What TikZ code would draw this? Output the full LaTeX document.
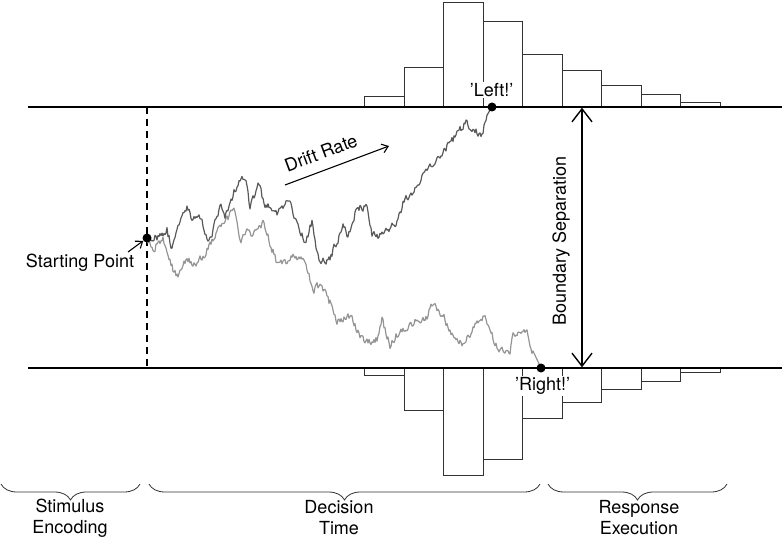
\documentclass[tikz,border=0pt]{standalone}
\usepackage{fontspec}
\setmainfont{TeX Gyre Heros}
\usetikzlibrary{arrows.meta,decorations.pathreplacing}
\newcommand\mkwalk[3]{%
  \gdef\wpath{}%
  \gdef\wnoise{0}%
  \foreach \x/\y [remember=\x as \px (initially #1), remember=\y as \py (initially #2)] in {#3} {%
    \pgfmathtruncatemacro\wn{max(1,round(abs(\x-\px)/1.0))}%
    \foreach \k in {1,...,\wn} {%
      \pgfmathsetmacro\xx{\px+(\x-\px)*\k/\wn}%
      \pgfmathsetmacro\nn{0.3*\wnoise+3.6*rand}%
      \pgfmathsetmacro\yy{\py+(\y-\py)*\k/\wn+\nn}%
      \xdef\wnoise{\nn}%
      \xdef\wpath{\wpath -- (\xx,\yy)}%
    }%
  }%
}
\begin{document}
\begin{tikzpicture}[x=1pt,y=-1pt,
  lbl/.style={font=\fontsize{18}{21}\selectfont, inner sep=1pt},
  bound/.style={line width=1.4pt, black},
  hist/.style={line width=0.8pt, draw=black!80},
  dotnode/.style={circle, fill=black, inner sep=0pt, minimum size=9pt},
  darkwalk/.style={line width=1.2pt, draw=black!65, line join=round},
  lightwalk/.style={line width=1.2pt, draw=black!42, line join=round},
  brc/.style={decorate, decoration={brace, mirror, amplitude=16pt}, line width=0.8pt, draw=black!80},
  barb/.style={-{Straight Barb[length=6pt,width=9pt]}, line width=1.1pt}
]
\useasboundingbox (0,0) rectangle (782,540);
\pgfmathsetseed{4711}
% histograms top
\foreach \a/\b/\h in {364.3/404/96.7, 404/443.7/67.7, 443.7/483.3/2.7, 483.3/522.7/21, 522.7/562.3/54.7, 562.3/601.7/70.3, 601.7/641.3/85, 641.3/680.7/94.3, 680.7/720.3/102.3}
  \draw[hist] (\a,107) rectangle (\b,\h);
% histograms bottom
\foreach \a/\b/\h in {364.3/404/375.7, 404/443.7/410, 443.7/483.3/475.3, 483.3/522.7/459.3, 522.7/562.3/418, 562.3/601.7/402.3, 601.7/641.3/389, 641.3/680.7/381, 680.7/720.3/372.7}
  \draw[hist] (\a,368) rectangle (\b,\h);
% boundaries
\coordinate (tl) at (28,107);
\coordinate (tr) at (782,107);
\coordinate (bl) at (28,368);
\coordinate (br) at (782,368);
\draw[bound] (tl) -- (tr);
\draw[bound] (bl) -- (br);
\coordinate (dtop) at (147,107);
\coordinate (dbot) at (147,368);
\draw[line width=1.2pt, dash pattern=on 7pt off 5pt] (dtop) -- (dbot);
% walks
\mkwalk{147}{238}{153/250, 163/237, 167/257, 177/277, 187/257, 195/267, 207/250, 218/230, 227/220, 230/213, 235/210, 240/243, 247/233, 253/237, 255/227, 263/223, 277/263, 287/260, 297/257, 305/260, 313/293, 320/283, 330/303, 337/323, 350/317, 363/340, 377/340, 382/318, 390/347, 400/330, 407/327, 417/320, 427/317, 433/302, 443/315, 450/333, 463/343, 477/323, 485/318, 497/347, 510/353, 513/332, 527/333, 533/353}
\edef\tmp{\noexpand\draw[lightwalk] (147,238) \wpath -- (541,368);}\tmp
\mkwalk{147}{238}{157/237, 167/230, 172/250, 177/225, 187/208, 192/217, 202/220, 207/240, 212/235, 220/205, 225/215, 230/207, 233/193, 242/177, 247/187, 250/208, 258/183, 265/205, 277/213, 288/200, 293/213, 300/230, 305/243, 312/222, 319/263, 330/258, 343/227, 348/237, 357/207, 367/207, 372/233, 378/238, 397/223, 403/203, 410/195, 420/182, 430/165, 445/150, 458/133, 466/122, 474/130, 482/135, 487/115}
\edef\tmp{\noexpand\draw[darkwalk] (147,238) \wpath -- (492,107);}\tmp
% labels
\node[lbl, fill=white] (leftlbl) at (491.7,90) {'Left!'};
\node[lbl, fill=white] (rightlbl) at (542.7,386) {'Right!'};
\node[lbl] (startlbl) at (80,263) {Starting Point};
\node[lbl, rotate=20.5] (drift) at (321,153) {Drift Rate};
\node[lbl, rotate=90] (bsep) at (561,241) {Boundary Separation};
% dots
\node[dotnode] (sp) at (147,238) {};
\node[dotnode] (lt) at (492,107) {};
\node[dotnode] (rt) at (541,368) {};
% arrows
\coordinate (d1) at (285,185);
\coordinate (d2) at (389,146);
\draw[barb] (d1) -- (d2);
\draw[barb] (128,252) -- (sp);
\coordinate (ba) at (582,107.7);
\coordinate (bb) at (582,367.3);
\draw[line width=1.4pt, {Straight Barb[length=13pt,width=20pt]}-{Straight Barb[length=13pt,width=20pt]}] (ba) -- (bb);
% braces
\draw[brc] (1,484) -- (140,484);
\draw[brc] (149,484) -- (540,484);
\draw[brc] (548,484) -- (727,484);
\node[lbl, align=center] (stim) at (70,518) {Stimulus\\Encoding};
\node[lbl, align=center] (dec) at (339,518) {Decision\\Time};
\node[lbl, align=center] (resp) at (639,518) {Response\\Execution};
\end{tikzpicture}
\end{document}
